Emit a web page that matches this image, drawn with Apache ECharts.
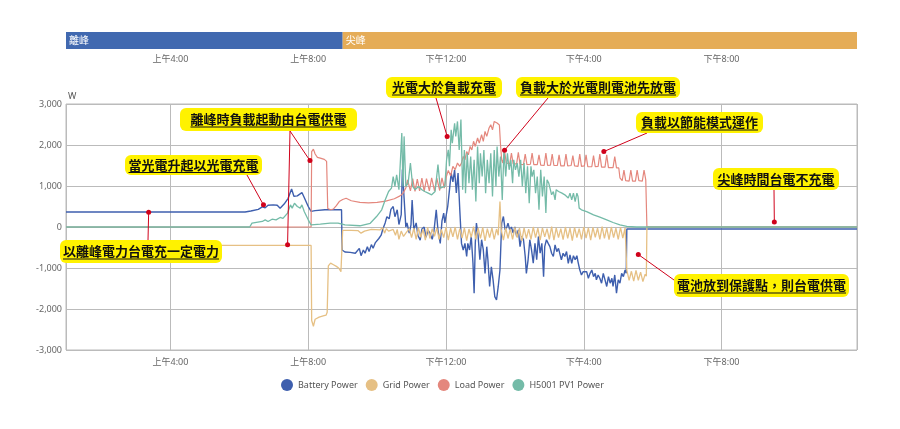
<!DOCTYPE html>
<html><head><meta charset="utf-8">
<script src="https://cdn.jsdelivr.net/npm/echarts@6/dist/echarts.min.js"></script>
<style>html,body{margin:0;padding:0;background:#fff}#c{width:900px;height:429px}</style>
</head><body><div id="c"></div>
<script>
const timeMin = '0:58', timeMax = '23:56';
const periodNames = ['離峰', '尖峰'];
const periodStarts = ['0:58', '9:00'];
const periodEnds = ['9:00', '23:56'];
const seriesNames = ['Battery Power', 'Grid Power', 'Load Power', 'H5001 PV1 Power'];
const yTicks = [-3000, -2000, -1000, 0, 1000, 2000, 3000];

const batteryPower = [
['0:58',365],['6:10',365],['6:20',390],['6:33',430],['6:40',490],['6:45',470],['6:50',530],['6:59',540],['7:06',530],['7:11',460],['7:18',560],['7:25',700],['7:31',925],['7:35',750],['7:41',760],['7:44',790],['7:49',840],['7:53',720],['8:00',500],['8:05',380],['8:12',400],['8:29',420],['8:58',420],['8:59',-560],
['9:04',-610],['9:13',-620],['9:22',-640],['9:25',-660],['9:29',-520],['9:32',-700],['9:36',-560],['9:39',-640],['9:43',-480],['9:46',-600],['9:50',-430],['9:53',-520],['9:57',-380],['10:00',-420],['10:03',-280],['10:07',-200],['10:10',-50],['10:14',100],['10:17',250],['10:21',200],['10:24',430],['10:28',500],['10:31',250],['10:35',420],['10:38',60],['10:42',300],['10:44',1400],['10:47',700],['10:50',0],['10:52',100],['10:56',-150],['10:59',50],['11:01',660],['11:04',-70],['11:08',100],['11:11',-200],['11:15',-320],['11:18',-50],['11:22',0],['11:25',-250],['11:29',-80],['11:32',-150],['11:36',-300],['11:39',-100],['11:43',420],['11:46',-80],['11:50',-400],['11:53',150],['11:56',340],['11:58',100],
['12:03',500],['12:06',900],['12:09',1315],['12:12',1100],['12:15',1395],['12:18',830],['12:21',1315],['12:24',420],['12:27',-400],['12:30',-560],['12:33',-400],['12:36',-720],['12:38',-400],['12:41',-560],['12:44',-230],['12:47',-885],['12:49',-1615],['12:51',-400],['12:53',95],['12:56',-230],['12:59',-800],['13:02',-310],['13:05',-560],['13:08',-1130],['13:11',-480],['13:13',-800],['13:16',-1450],['13:19',-970],['13:22',-1290],['13:25',-1700],['13:28',-1780],['13:31',-1450],['13:34',-1050],['13:37',95],['13:40',255],['13:43',-70],['13:46',0],['13:48',95],['13:51',-70],['13:54',0],['13:57',-150],['14:00',0],['14:03',-230],['14:06',-70],['14:09',-480],['14:12',-230],['14:15',-310],['14:18',-720],['14:20',-1130],['14:23',-800],['14:26',-310],['14:29',-560],['14:32',-885],['14:35',-400],['14:38',-800],['14:41',-230],['14:44',-640],['14:47',-400],['14:50',-1210],['14:52',-480],['14:55',-310],['14:58',-400],
['15:01',-480],['15:04',-640],['15:07',-720],['15:10',-435],['15:13',-600],['15:16',-520],['15:19',-560],['15:21',-800],['15:24',-640],['15:27',-720],['15:30',-600],['15:33',-885],['15:36',-680],['15:39',-885],['15:42',-700],['15:45',-800],['15:48',-700],['15:50',-850],['15:53',-1045],['15:56',-1170],['15:59',-1090],['16:02',-1130],['16:05',-1090],['16:08',-1250],['16:11',-1130],['16:14',-1050],['16:17',-1210],['16:20',-1130],['16:22',-1290],['16:25',-1170],['16:28',-1250],['16:31',-1370],['16:34',-1130],['16:37',-1290],['16:40',-1450],['16:43',-1210],['16:46',-1370],['16:49',-1250],['16:51',-1450],['16:54',-1170],['16:57',-1615],['17:00',-1290],['17:03',-1370],['17:06',-1130],['17:09',-1210],['17:12',-1050],['17:14',-1130],['17:15',-50],['23:56',-50]
];

const gridPower = [
['0:58',-450],['8:05',-450],['8:06',-2280],['8:09',-2420],['8:12',-2250],['8:19',-2200],['8:26',-2170],['8:31',-2150],['8:33',-2080],['8:35',-950],['8:39',-880],['8:44',-920],['8:49',-960],['8:53',-1000],['8:57',-1090],['8:59',-1100],['9:00',-80],
['9:15',-80],['9:27',-90],['9:32',-150],['9:38',-100],['9:50',-60],['10:05',-70],['10:10',-20],['10:13',-150],['10:16',-40],['10:20',-100],['10:28',-60],['10:32',-200],['10:35',-60],['10:38',-300],['10:42',-100],['10:46',-230],['10:50',-150],
['10:56',-40],['11:00',-260],['11:04',-30],['11:08',-300],['11:12',-20],['11:16',-250],['11:20',-50],['11:24',-320],['11:28',-10],['11:32',-280],['11:36',-40],['11:40',-230],['11:44',-20],['11:48',-300],['11:52',-60],['11:56',-260],['12:00',-10],['12:04',-320],['12:08',-30],['12:12',-240],['12:16',0],['12:20',-300],['12:24',-40],['12:28',-270],['12:32',-20],['12:36',-330],['12:40',-50],['12:44',-250],['12:48',10],['12:52',-300],['12:56',-30],['13:00',-280],['13:04',-10],['13:08',-340],['13:12',-40],['13:16',-260],['13:20',-20],['13:24',-300],['13:28',-50],['13:31',-200],['13:34',620],['13:36',-60],['13:40',-320],['13:44',-20],['13:48',-280],['13:52',-40],['13:56',-300],['14:00',-10],['14:04',-260],['14:08',-30],['14:12',-340],['14:16',-20],['14:20',-280],['14:24',-50],['14:28',-300],['14:32',0],['14:36',-260],['14:40',-30],['14:44',-320],['14:48',-20],['14:52',-240],['14:56',-40],['15:00',-300],['15:04',10],['15:08',-320],['15:12',-20],['15:16',-260],['15:20',-40],['15:24',-310],['15:28',0],['15:32',-280],['15:36',-30],['15:40',-330],['15:44',-10],['15:48',-260],['15:52',-40],['15:56',-300],['16:00',0],['16:04',-270],['16:08',-20],['16:12',-320],['16:16',-10],['16:20',-250],['16:24',-30],['16:28',-300],['16:32',10],['16:36',-280],['16:40',-20],['16:44',-310],['16:48',0],['16:52',-260],['16:56',-30],['17:00',-300],['17:04',-10],['17:08',-270],['17:12',-20],['17:14',-30],
['17:15',-1050],['17:19',-1300],['17:23',-1080],['17:27',-1320],['17:31',-1060],['17:35',-1300],['17:39',-1100],['17:43',-1330],['17:47',-1150],['17:49',-1200],['17:50',0],['23:56',0]
];

const loadPower = [
['0:58',0],['8:05',0],['8:06',1840],['8:09',1900],['8:12',1780],['8:16',1700],['8:21',1680],['8:28',1650],['8:32',1600],['8:34',450],['8:39',420],['8:44',440],['8:49',520],['8:54',620],['9:00',670],['9:06',700],['9:15',640],['9:30',600],['9:45',590],['10:00',600],['10:15',630],['10:30',690],['10:40',760],['10:45',820],['10:50',950],
['10:53',1150],['10:58',880],['11:02',1180],['11:06',870],['11:10',1170],['11:14',880],['11:18',1190],['11:22',870],['11:26',1180],['11:31',880],['11:35',1200],['11:40',880],['11:44',1190],['11:49',890],['11:53',1200],['11:57',950],
['12:00',1200],['12:04',1380],['12:08',1250],['12:12',1480],['12:16',1400],['12:20',1560],['12:24',1480],['12:27',1560],['12:30',1720],['12:33',1640],['12:36',1840],['12:39',1760],['12:42',1965],['12:45',1880],['12:48',2090],['12:51',1965],['12:55',2170],['12:58',2045],['13:02',2250],['13:05',2090],['13:08',2330],['13:11',2210],['13:15',2415],['13:18',2495],['13:21',2370],['13:24',2575],['13:29',2535],['13:33',2490],['13:35',2000],['13:37',1640],
['13:39',1560],['13:42',1860],['13:45',1560],['13:51',1540],['13:54',1800],['13:57',1540],['14:03',1540],['14:06',1820],['14:09',1530],['14:15',1520],['14:18',1780],['14:21',1520],['14:27',1530],['14:30',1800],['14:33',1520],['14:39',1520],['14:42',1760],['14:45',1510],['14:51',1500],['14:54',1800],['14:57',1500],['15:02',1510],['15:05',1780],['15:08',1500],['15:14',1500],['15:17',1760],['15:20',1490],['15:26',1490],['15:29',1780],['15:32',1490],['15:38',1500],['15:41',1740],['15:44',1490],['15:50',1480],['15:53',1780],['15:56',1480],['16:01',1490],['16:04',1760],['16:07',1470],['16:14',1470],['16:17',1740],['16:20',1470],['16:25',1480],['16:28',1780],['16:31',1460],['16:37',1460],['16:40',1760],['16:43',1450],['16:51',1450],['16:54',1720],['16:57',1440],['17:01',1440],
['17:03',1200],['17:07',1130],['17:10',1390],['17:13',1130],['17:19',1120],['17:22',1390],['17:25',1120],['17:30',1120],['17:33',1390],['17:36',1130],['17:42',1120],['17:45',1390],['17:48',1150],['17:49',1150],['17:50',0],['23:56',0]
];

const pvPower = [
['0:58',0],['6:18',0],['6:22',95],['6:40',135],['6:45',175],['6:50',135],['6:57',190],['7:04',175],['7:11',232],['7:16',210],['7:24',340],['7:29',540],['7:32',460],['7:36',580],['7:41',500],['7:46',460],['7:49',540],['7:53',377],['8:00',175],['8:05',50],['8:21',70],['8:38',95],['8:52',95],['9:04',50],['9:30',30],['9:48',90],['9:59',255],['10:08',420],['10:14',660],['10:20',865],['10:25',950],['10:28',1230],['10:31',990],['10:34',1270],['10:38',910],['10:43',2290],['10:45',990],['10:47',2210],['10:50',990],['10:54',1070],['10:58',1560],['11:02',990],['11:06',910],['11:12',990],['11:18',910],['11:23',865],['11:29',825],['11:35',785],['11:41',865],['11:46',1520],['11:50',950],['11:53',910],['11:58',990],
['12:01',1640],['12:04',1880],['12:06',1480],['12:09',2370],['12:11',2045],['12:15',2530],['12:17',2210],['12:20',2575],['12:23',1880],['12:26',2620],['12:29',910],['12:32',1880],['12:34',825],['12:37',1800],['12:40',1070],['12:43',1720],['12:46',910],['12:49',1640],['12:52',620],['12:55',1965],['12:58',1070],['13:00',1800],['13:03',1230],['13:06',1880],['13:09',825],['13:12',1640],['13:15',1070],['13:18',1800],['13:21',745],['13:24',1880],['13:27',990],['13:29',1965],['13:32',1230],['13:35',1720],['13:38',660],['13:41',1880],['13:44',1230],['13:47',1800],['13:50',1395],['13:53',1640],['13:56',1070],['13:58',1640],['14:01',1395],['14:04',1560],['14:07',1230],['14:10',1640],['14:13',990],['14:16',1560],['14:19',825],['14:22',1480],['14:25',580],['14:28',1480],['14:30',1230],['14:33',1395],['14:36',825],['14:39',1230],['14:42',420],['14:45',1395],['14:48',745],['14:51',1230],['14:54',340],['14:56',1150],['14:59',1070],
['15:04',785],['15:07',865],['15:10',660],['15:12',910],['15:16',865],['15:22',825],['15:27',785],['15:33',705],['15:36',825],['15:39',660],['15:42',825],['15:45',620],['15:48',825],['15:50',745],['15:52',460],['15:56',420],['16:05',377],['16:17',297],['16:28',240],['16:40',175],['16:51',110],['17:03',52],['17:15',15],['17:32',0],['23:56',0]
];

const annotations = [
  {text:'當光電升起以光電充電', box:[125,155,137,20], from:[[247,175]], to:[['6:42',540]]},
  {text:'離峰時負載起動由台電供電', box:[180,108,177,23], from:[[290,131],[290,131]], to:[['7:24',-430],['8:03',1620]]},
  {text:'以離峰電力台電充一定電力', box:[60,240,162,23], from:[[148,240]], to:[['3:22',360]]},
  {text:'光電大於負載充電', box:[386,77,116,21], from:[[436,98]], to:[['12:02',2210]]},
  {text:'負載大於光電則電池先放電', box:[516,77,164,21], from:[[548,98]], to:[['13:42',1870]]},
  {text:'負載以節能模式運作', box:[636,112,127,21], from:[[647,133]], to:[['16:35',1840]]},
  {text:'尖峰時間台電不充電', box:[713,168,126,22], from:[[774,190]], to:[['21:32',120]]},
  {text:'電池放到保護點，則台電供電', box:[674,274,175,23], from:[[674,280]], to:[['17:35',-670]]}
];

function ts(s){const p=s.split(':').map(Number);return new Date(2024,0,1,p[0],p[1]).getTime();}
function toSeries(arr){return arr.map(d=>[ts(d[0]),d[1]]);}
function fmtTime(v){const d=new Date(v);const h=d.getHours();const m=d.getMinutes();return (h<12?'上午':'下午')+((h%12)||12)+':'+String(m).padStart(2,'0');}

const FONT = '"Noto Sans", "Noto Sans CJK TC", sans-serif';
const colors = ['#3e5fae','#e6c084','#e4877d','#74bba8'];
const lineWidths = [1.4, 1.3, 1.2, 1.3];
const periodColors = ['#4169b0','#e5ac57'];
const H4 = 4*3600*1000;

const chart = echarts.init(document.getElementById('c'), null, {renderer:'canvas'});
const xCommon = {type:'time', min:ts(timeMin), max:ts(timeMax), minInterval:H4, maxInterval:H4,
  axisTick:{show:false}, axisLine:{show:false}};
const allData = [batteryPower, gridPower, loadPower, pvPower];

chart.setOption({
  animation:false,
  textStyle:{fontFamily:FONT},
  grid:[
    {left:66, right:43, top:32, height:17},
    {left:66, right:43, top:104, height:246, show:true, borderColor:'#bbb', borderWidth:1}
  ],
  xAxis:[
    Object.assign({}, xCommon, {gridIndex:0, splitLine:{show:false},
      axisLabel:{formatter:fmtTime, color:'#666', fontSize:9, margin:6, showMinLabel:false, showMaxLabel:false, fontFamily:FONT}}),
    Object.assign({}, xCommon, {gridIndex:1, splitLine:{show:true, lineStyle:{color:'#bbb', width:1}},
      axisLabel:{formatter:fmtTime, color:'#666', fontSize:9, margin:8, showMinLabel:false, showMaxLabel:false, fontFamily:FONT}})
  ],
  yAxis:[
    {type:'value', gridIndex:0, min:0, max:1, show:false},
    {type:'value', gridIndex:1, min:yTicks[0], max:yTicks[yTicks.length-1], interval:yTicks[1]-yTicks[0],
      name:'W', nameLocation:'end', nameGap:3, nameTextStyle:{align:'left', verticalAlign:'bottom', color:'#555', fontSize:9, padding:[0,0,0,2]},
      axisLine:{show:false}, axisTick:{show:false},
      axisLabel:{color:'#666', fontSize:9, margin:4, fontFamily:FONT},
      splitLine:{lineStyle:{color:'#bbb', width:1}}}
  ],
  legend:{top:374, left:276, icon:'circle', itemWidth:12, itemHeight:12, itemGap:8,
    textStyle:{color:'#555', fontSize:9, fontFamily:FONT}, data:seriesNames},
  series:[
    {type:'custom', xAxisIndex:0, yAxisIndex:0, encode:{x:[0,1]}, silent:true,
      data:periodNames.map((n,i)=>[ts(periodStarts[i]), ts(periodEnds[i])]),
      renderItem:function(params, api){
        const a = api.coord([api.value(0), 1]);
        const b = api.coord([api.value(1), 0]);
        return {type:'group', children:[
          {type:'rect', shape:{x:a[0], y:a[1], width:b[0]-a[0], height:b[1]-a[1]}, style:{fill:periodColors[params.dataIndex]}},
          {type:'text', style:{text:periodNames[params.dataIndex], x:a[0]+3, y:(a[1]+b[1])/2, verticalAlign:'middle', fill:'#fff', font:'10px "Noto Sans CJK TC"'}}
        ]};
      }}
  ].concat(seriesNames.map((n,i)=>({
    name:n, type:'line', xAxisIndex:1, yAxisIndex:1, showSymbol:false, symbol:'circle',
    color:colors[i], lineStyle:{width:lineWidths[i], color:colors[i]},
    data:toSeries(allData[i])
  })))
});

// annotations
const mctx = document.createElement('canvas').getContext('2d');
const AFONT = 'bold 13px "Noto Sans CJK TC"';
mctx.font = AFONT;
const graphics = [];
const RED = '#d0021b';
annotations.forEach(a=>{
  const [bx,by,bw,bh] = a.box;
  a.to.forEach((t,k)=>{
    const p = chart.convertToPixel({gridIndex:1}, [ts(t[0]), t[1]]);
    const f = a.from[k];
    graphics.push({type:'line', shape:{x1:f[0], y1:f[1], x2:p[0], y2:p[1]}, style:{stroke:RED, lineWidth:1}, z:100});
    graphics.push({type:'circle', shape:{cx:p[0], cy:p[1], r:2.5}, style:{fill:RED}, z:101});
  });
  graphics.push({type:'rect', shape:{x:bx, y:by, width:bw, height:bh, r:6}, style:{fill:'#fff200'}, z:102});
  const cx = bx+bw/2, cy = by+bh/2;
  graphics.push({type:'text', style:{text:a.text, x:cx, y:cy, align:'center', verticalAlign:'middle', font:AFONT, fill:'#111'}, z:103});
  const w = mctx.measureText(a.text).width;
  graphics.push({type:'line', shape:{x1:cx-w/2, y1:cy+7.5, x2:cx+w/2, y2:cy+7.5}, style:{stroke:'#111', lineWidth:1}, z:103});
});
chart.setOption({graphic:graphics});
</script>
</body></html>
